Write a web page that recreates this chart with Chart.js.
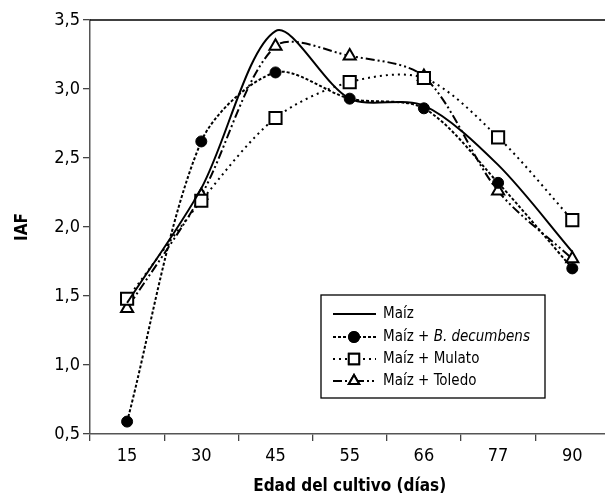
<!DOCTYPE html>
<html>
<head>
<meta charset="utf-8">
<script src="https://cdn.jsdelivr.net/npm/chart.js@4"></script>
<style>
  html, body { margin: 0; padding: 0; background: #fff; overflow: hidden; }
  #wrap { width: 620px; height: 495px; }
</style>
</head>
<body>
<div id="wrap"><canvas id="chart" width="620" height="495"></canvas></div>
<script>
// data
var dias = ['15', '30', '45', '55', '66', '77', '90'];
var maiz = [1.45, 2.28, 3.42, 2.93, 2.88, 2.45, 1.82];
var maizDecumbens = [0.59, 2.62, 3.12, 2.93, 2.86, 2.32, 1.70];
var maizMulato = [1.48, 2.19, 2.79, 3.05, 3.08, 2.65, 2.05];
var maizToledo = [1.41, 2.23, 3.31, 3.24, 3.09, 2.26, 1.77];
var yTicks = [0.5, 1.0, 1.5, 2.0, 2.5, 3.0, 3.5];

var FONT = '"Liberation Sans Narrow", "DejaVu Sans Condensed", sans-serif';

var series = [
    { label: 'Maíz', data: maiz, dash: [], point: false, fill: '#000' },
    { label: 'Maíz + B. decumbens', italic: 'B. decumbens', data: maizDecumbens, dash: [3, 2], point: 'circle', radius: 5.5, fill: '#000' },
    { label: 'Maíz + Mulato', data: maizMulato, dash: [2, 4], point: 'rect', radius: 8.6, fill: '#fff' },
    { label: 'Maíz + Toledo', data: maizToledo, dash: [9, 3, 2, 3, 2, 3], point: 'triangle', radius: 7, fill: '#fff' }
];

// top frame line + legend box
var extras = {
    id: 'extras',
    afterDraw: function(chart) {
        var ctx = chart.ctx, a = chart.chartArea;
        ctx.save();
        ctx.strokeStyle = '#000';
        ctx.lineWidth = 1.5;
        ctx.beginPath();
        ctx.moveTo(a.left, a.top);
        ctx.lineTo(a.right, a.top);
        ctx.stroke();

        // legend
        var bx = 321, by = 295, bw = 224, bh = 103;
        ctx.lineWidth = 1.3;
        ctx.strokeRect(bx, by, bw, bh);
        var rowY = [314, 337, 359, 381];
        series.forEach(function(s, i) {
            var y = rowY[i];
            ctx.setLineDash(s.dash);
            ctx.lineWidth = 2;
            ctx.beginPath();
            ctx.moveTo(333, y);
            ctx.lineTo(376, y);
            ctx.stroke();
            ctx.setLineDash([]);
            if (s.point) {
                Chart.helpers.drawPoint(ctx, {
                    pointStyle: s.point, radius: s.point === 'circle' ? 5 : s.radius * 0.85,
                    borderWidth: s.point === 'circle' ? 1 : 1.8, rotation: 0
                }, 354, y);
                ctx.fillStyle = s.fill;
                ctx.fill();
                ctx.stroke();
            }
            ctx.fillStyle = '#000';
            ctx.textBaseline = 'middle';
            ctx.textAlign = 'left';
            ctx.font = '15px ' + FONT;
            if (s.italic) {
                var plain = s.label.replace(s.italic, '');
                ctx.fillText(plain, 383, y);
                var w = ctx.measureText(plain).width;
                ctx.font = 'italic 15px ' + FONT;
                ctx.fillText(s.italic, 383 + w, y);
            } else {
                ctx.fillText(s.label, 383, y);
            }
        });
        ctx.restore();
    }
};

new Chart(document.getElementById('chart'), {
    type: 'line',
    data: {
        labels: dias,
        datasets: series.map(function(s) {
            return {
                label: s.label,
                data: s.data,
                borderColor: '#000',
                borderWidth: 2,
                borderDash: s.dash,
                tension: 0.3,
                pointStyle: s.point || 'circle',
                pointRadius: s.point ? s.radius : 0,
                pointBackgroundColor: s.fill,
                pointBorderColor: '#000',
                pointBorderWidth: s.point === 'circle' ? 1 : 2,
                clip: false
            };
        })
    },
    options: {
        responsive: false,
        animation: false,
        layout: { padding: { top: 20, right: 5, left: 0, bottom: 0 } },
        plugins: { legend: { display: false }, tooltip: { enabled: false } },
        scales: {
            x: {
                offset: true,
                grid: { offset: true, drawOnChartArea: false, tickLength: 7, color: '#444', lineWidth: 1.3 },
                border: { color: '#555', width: 1.5 },
                ticks: { color: '#000', font: { family: FONT, size: 18 }, padding: 5, maxRotation: 0 },
                title: { display: true, text: 'Edad del cultivo (días)', color: '#000',
                    font: { family: FONT, size: 17, weight: 'bold', lineHeight: 1 }, padding: 0 },
                afterFit: function(scale) { scale.height = 61; }
            },
            y: {
                min: 0.5, max: 3.5,
                afterBuildTicks: function(scale) {
                    scale.ticks = yTicks.map(function(v) { return { value: v }; });
                },
                grid: { drawOnChartArea: false, tickLength: 7, color: '#444', lineWidth: 1.3 },
                border: { color: '#555', width: 1.5 },
                ticks: {
                    color: '#000', font: { family: FONT, size: 18 }, padding: 3,
                    callback: function(v) { return v.toFixed(1).replace('.', ','); }
                },
                title: { display: true, text: 'IAF', color: '#000',
                    font: { family: FONT, size: 17, weight: 'bold', lineHeight: 1 }, padding: { top: 14, bottom: 0 } },
                afterFit: function(scale) { scale.width = 90; }
            }
        }
    },
    plugins: [extras]
});
</script>
</body>
</html>
